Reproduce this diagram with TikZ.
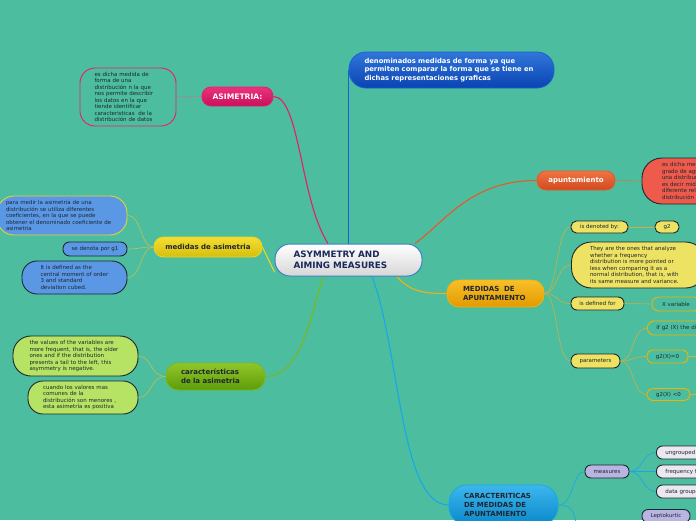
\documentclass[tikz,border=0pt]{standalone}
\usepackage{fontspec}
\setmainfont{DejaVu Sans}
\pgfdeclarelayer{back}
\pgfsetlayers{back,main}
\definecolor{bg}{RGB}{76,189,158}
\definecolor{txt}{RGB}{30,38,48}
\definecolor{pinkT}{RGB}{236,50,125}
\definecolor{pinkB}{RGB}{200,16,90}
\definecolor{pinkL}{RGB}{232,28,110}
\definecolor{blueT}{RGB}{48,118,218}
\definecolor{blueB}{RGB}{10,68,178}
\definecolor{blueL}{RGB}{28,96,208}
\definecolor{rootB}{RGB}{60,130,200}
\definecolor{navy}{RGB}{26,40,90}
\definecolor{yelT}{RGB}{244,222,48}
\definecolor{yelB}{RGB}{214,190,14}
\definecolor{yelL}{RGB}{232,214,40}
\definecolor{blueF}{RGB}{90,152,230}
\definecolor{grnT}{RGB}{144,198,42}
\definecolor{grnB}{RGB}{94,156,8}
\definecolor{grnL}{RGB}{122,184,30}
\definecolor{lgrn}{RGB}{182,227,99}
\definecolor{orT}{RGB}{240,116,66}
\definecolor{orB}{RGB}{208,74,32}
\definecolor{orL}{RGB}{232,88,42}
\definecolor{salmon}{RGB}{238,90,76}
\definecolor{goldT}{RGB}{248,192,40}
\definecolor{goldB}{RGB}{226,154,0}
\definecolor{goldL}{RGB}{242,178,16}
\definecolor{yelF}{RGB}{238,226,98}
\definecolor{goldE}{RGB}{240,180,0}
\definecolor{cyT}{RGB}{60,182,238}
\definecolor{cyB}{RGB}{10,136,201}
\definecolor{cyL}{RGB}{24,168,232}
\definecolor{lav}{RGB}{186,180,226}
\definecolor{llav}{RGB}{236,232,242}
\definecolor{olive}{RGB}{196,192,80}
\definecolor{olive2}{RGB}{200,178,70}
\definecolor{pinkgrey}{RGB}{190,120,140}
\begin{document}
\begin{tikzpicture}[x=1pt,y=-1pt,
  small/.style={font=\fontsize{5.5}{6.5}\selectfont, text=txt},
  big/.style={font=\fontsize{7}{8.6}\selectfont\bfseries},
  sbox/.style={draw=txt, line width=0.9pt, inner sep=0pt, align=left, small},
  mainnode/.style={line width=0.8pt, inner sep=0pt, align=left, big},
  branch/.style={line width=1.1pt},
  twig/.style={line width=0.6pt}
]
\useasboundingbox (0,0) rectangle (696,520);

% ---- main nodes
\node[mainnode, draw=rootB, line width=1pt, rounded corners=15, minimum width=147, minimum height=32,
  top color=white, bottom color=black!16, text=navy, text width=110, font=\fontsize{8.8}{11.5}\selectfont\bfseries]
  (root) at (348.5,260) {ASYMMETRY AND\\AIMING MEASURES};

\node[mainnode, draw=blueL, rounded corners=17, minimum width=205, minimum height=36,
  top color=blueT, bottom color=blueB, text=white, text width=174, font=\fontsize{6.8}{8.5}\selectfont\bfseries]
  (top) at (451.5,70) {denominados medidas de forma ya que\\permiten comparar la forma que se tiene en\\dichas representaciones graficas};

\node[mainnode, draw=pinkL, rounded corners=9, minimum width=71, minimum height=19,
  top color=pinkT, bottom color=pinkB, text=white, font=\fontsize{7.6}{9}\selectfont\bfseries]
  (asim) at (237.5,96.5) {ASIMETRIA:};

\node[sbox, draw=pinkL, fill=bg, rounded corners=15, minimum width=96, minimum height=58, text width=67]
  (asimdef) at (128,97) {es dicha medida de\\forma de una\\distribución n la que\\nos permite describir\\los datos en la que\\tiende identificar\\caracteristicas~ de la\\distribución de datos};

\node[mainnode, draw=yelL, rounded corners=9.5, minimum width=108, minimum height=20,
  top color=yelT, bottom color=yelB, text=txt]
  (med) at (208,247) {medidas de asimetria};

\node[sbox, draw=yelL, fill=blueF, rounded corners=17, minimum width=130, minimum height=39, text width=112]
  (m1) at (62,215.5) {para medir la asimetría de una\\distribución se utiliza diferentes\\coeficientes, en la que se puede\\obtener el denominado coeficiente de\\asimetria};
\node[sbox, fill=blueF, rounded corners=6.5, minimum width=64, minimum height=14]
  (m2) at (95,249) {se denota por g1};
\node[sbox, fill=blueF, rounded corners=15, minimum width=105, minimum height=33, text width=68]
  (m3) at (74.5,277.5) {It is defined as the\\central moment of order\\3 and standard\\deviation cubed.};

\node[mainnode, draw=grnL, rounded corners=12, minimum width=99, minimum height=27,
  top color=grnT, bottom color=grnB, text=txt, text width=69]
  (car) at (215.5,376.5) {características\\de la asimetria};

\node[sbox, fill=lgrn, rounded corners=18, minimum width=125, minimum height=40, text width=92]
  (c1) at (75.5,356) {the values of the variables are\\more frequent, that is, the older\\ones and if the distribution\\presents a tail to the left, this\\asymmetry is negative.};
\node[sbox, fill=lgrn, rounded corners=15, minimum width=110, minimum height=33, text width=80]
  (c2) at (83,397.5) {cuando los valores mas\\comunes de la\\distribución son menores~,\\esta asimetría es positiva};

\node[mainnode, draw=orL, rounded corners=9, minimum width=78, minimum height=19,
  top color=orT, bottom color=orB, text=white]
  (apu) at (576,180.5) {apuntamiento};
\node[sbox, fill=salmon, rounded corners=20, minimum width=120, minimum height=46, text width=80]
  (apudef) at (702,181) {es dicha medida del\\grado de agudeza de\\una distribución,\\es decir mide la\\diferente relación de la\\distribución};

\node[mainnode, draw=goldL, rounded corners=12, minimum width=97, minimum height=27,
  top color=goldT, bottom color=goldB, text=txt, text width=65]
  (ma) at (495.5,293.5) {MEDIDAS~ DE\\APUNTAMIENTO};

\node[sbox, fill=yelF, rounded corners=5.5, minimum width=57, minimum height=12]
  (isden) at (599.5,227) {is denoted by:};
\node[sbox, fill=yelF, rounded corners=5.5, minimum width=24, minimum height=12]
  (gtwo) at (667,227) {g2};
\node[sbox, fill=yelF, rounded corners=20, minimum width=134, minimum height=46, text width=97]
  (bigy) at (638.5,265) {They are the ones that analyze\\whether a frequency\\distribution is more pointed or\\less when comparing it as a\\normal distribution, that is, with\\its same measure and variance.};
\node[sbox, fill=yelF, rounded corners=6, minimum width=53, minimum height=13]
  (isdef) at (597.5,303.5) {is defined for};
\node[sbox, draw=goldE, fill=bg, rounded corners=6.5, minimum width=48, minimum height=14]
  (xvar) at (676,304) {X variable};
\node[sbox, fill=yelF, rounded corners=6.5, minimum width=49, minimum height=14]
  (param) at (595.5,361) {parameters};
\node[sbox, draw=goldE, fill=bg, rounded corners=6.5, minimum height=14, anchor=west, inner xsep=9pt, text width=120]
  (ifg) at (647,328) {if g2 (X) the distribution is leptokurtic};
\node[sbox, draw=goldE, fill=bg, rounded corners=6, minimum width=41, minimum height=13]
  (gzero) at (667.5,356.5) {g2(X)=0};
\node[sbox, draw=goldE, fill=bg, rounded corners=5.5, minimum width=43, minimum height=12]
  (gneg) at (668.5,394.5) {g2(X) <0};

\node[mainnode, draw=cyL, rounded corners=18, minimum width=109, minimum height=40,
  top color=cyT, bottom color=cyB, text=txt, text width=79]
  (cma) at (503.5,505) {CARACTERITICAS\\DE MEDIDAS DE\\APUNTAMIENTO};

\node[sbox, fill=lav, rounded corners=6, minimum width=44, minimum height=13]
  (meas) at (607,471.5) {measures};
\node[sbox, fill=llav, rounded corners=6, minimum height=13, anchor=west, inner xsep=9pt, text width=60]
  (ungr) at (656,452.5) {ungrouped data};
\node[sbox, fill=llav, rounded corners=6, minimum height=13, anchor=west, inner xsep=9pt, text width=60]
  (freq) at (656,471.5) {frequency table};
\node[sbox, fill=llav, rounded corners=6, minimum height=13, anchor=west, inner xsep=9pt, text width=60]
  (datg) at (656,491.5) {data grouped};
\node[sbox, fill=lav, rounded corners=6, minimum width=48, minimum height=13]
  (lepto) at (666,516) {Leptokurtic};

\coordinate (offA) at (700,356.5);
\coordinate (offB) at (700,394.5);
\coordinate (offC) at (577,530);

% ---- connectors
\begin{pgfonlayer}{back}
\fill[bg] (0,0) rectangle (696,520);
\draw[branch, pinkL] (asim.east) .. controls (300,97) and (300,200) .. ([xshift=-20.5]root.north);
\draw[branch, blueL] (root.north) -- (root.north |- top.center);
\draw[branch, orL] ([xshift=66.5]root.north) .. controls (445,222) and (470,180.5) .. (apu.west);
\draw[branch, goldL] ([xshift=48.5]root.south) .. controls (410,292) and (425,293.5) .. (ma.west);
\draw[branch, grnL] ([xshift=-25.5]root.south) .. controls (310,320) and (300,376.5) .. (car.east);
\draw[branch, cyL] ([xshift=23.5]root.south) .. controls (400,350) and (400,505) .. (cma.west);
\draw[branch, yelL] (med.east) -- ([yshift=-12]root.west);

\draw[twig, pinkgrey] (asimdef.east) -- (asim.west);

\draw[twig, olive] (med.west) .. controls (140,247) and (142,215.5) .. (m1.east);
\draw[twig, olive] (med.west) .. controls (140,247) and (140,249) .. (m2.east);
\draw[twig, olive] (med.west) .. controls (140,247) and (142,277.5) .. (m3.east);

\draw[twig, olive] (car.west) .. controls (150,376.5) and (152,356) .. (c1.east);
\draw[twig, olive] (car.west) .. controls (150,376.5) and (152,397.5) .. (c2.east);

\draw[twig, orL!70!olive] (apu.east) -- (apudef.west);

\draw[twig, olive2] (ma.east) .. controls (558,293.5) and (556,227) .. (isden.west);
\draw[twig, olive2] (ma.east) .. controls (558,293.5) and (556,265) .. (bigy.west);
\draw[twig, olive2] (ma.east) .. controls (558,293.5) and (556,303.5) .. (isdef.west);
\draw[twig, olive2] (ma.east) .. controls (558,293.5) and (556,361) .. (param.west);
\draw[twig, olive2] (isden.east) -- (gtwo.west);
\draw[twig, olive2] (isdef.east) -- (xvar.west);
\draw[twig, olive2] (param.east) .. controls (634,361) and (632,328) .. (ifg.west);
\draw[twig, olive2] (param.east) .. controls (634,361) and (632,356.5) .. (gzero.west);
\draw[twig, olive2] (param.east) .. controls (634,361) and (632,394.5) .. (gneg.west);
\draw[twig, olive2] (gzero.east) -- (offA);
\draw[twig, olive2] (gneg.east) -- (offB);

\draw[twig, cyL] (cma.east) .. controls (574,505) and (572,471.5) .. (meas.west);
\draw[twig, cyL] (cma.east) .. controls (574,505) and (575,515) .. (offC);
\draw[twig, cyL] (meas.east) .. controls (643,471.5) and (642,452.5) .. (ungr.west);
\draw[twig, cyL] (meas.east) -- (freq.west);
\draw[twig, cyL] (meas.east) .. controls (643,471.5) and (642,491.5) .. (datg.west);
\end{pgfonlayer}
\end{tikzpicture}
\end{document}
